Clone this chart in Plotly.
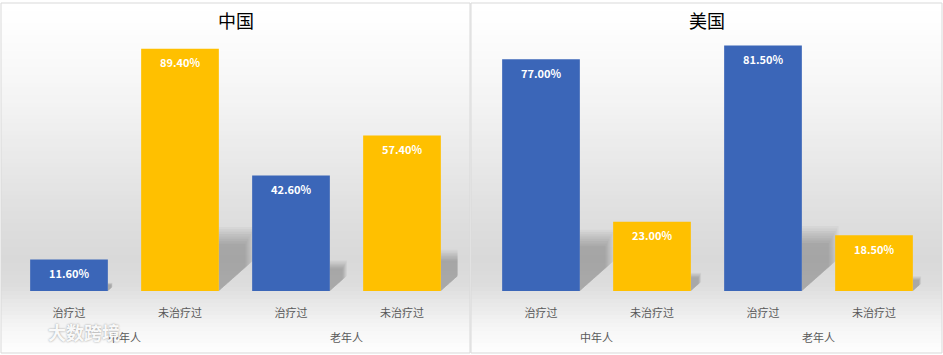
import plotly.graph_objects as go

# ---- data ----
groups = ["中年人", "中年人", "老年人", "老年人"]
categories = ["治疗过", "未治疗过", "治疗过", "未治疗过"]
china_values = [11.60, 89.40, 42.60, 57.40]
usa_values = [77.00, 23.00, 81.50, 18.50]
panel_titles = ["中国", "美国"]
watermark_text = "大数跨境"

# ---- style ----
W, H = 943, 355
BLUE = "#3B66B8"
YELLOW = "#FFC000"
bar_colors = [BLUE, YELLOW, BLUE, YELLOW]
FONT = "Noto Sans CJK SC"
panels_px = [(1, 470), (471, 942)]       # panel borders (x, px)
panel_top, panel_bottom = 3, 353
plot_x_px = [(13.5, 457.5), (485.5, 929.5)]
plot_y_px = (20, 291)
y_ranges = [[0, 100], [0, 90]]
BAR_W = 0.7
grad_stops = [(3, 255), (40, 252), (100, 244), (160, 233), (220, 222), (260, 217),
              (285, 221), (305, 233), (330, 247), (353, 254)]


def px_x(v):
    return v / W


def px_y(v):
    return 1 - v / H


def gray_at(yp):
    for (y0, g0), (y1, g1) in zip(grad_stops[:-1], grad_stops[1:]):
        if y0 <= yp <= y1:
            t = (yp - y0) / (y1 - y0)
            return g0 + (g1 - g0) * t
    return 255


keys = [f"{g}|{c}|{i}" for i, (g, c) in enumerate(zip(groups, categories))]

fig = go.Figure()
shapes = []
annotations = []

# background gradient
step = 4
for (x0, x1) in panels_px:
    y = panel_top
    while y < panel_bottom:
        y2 = min(y + step, panel_bottom)
        g = int(round(gray_at((y + y2) / 2)))
        shapes.append(dict(type="rect", xref="paper", yref="paper",
                           x0=px_x(x0), x1=px_x(x1), y0=px_y(y2), y1=px_y(y),
                           fillcolor=f"rgb({g},{g},{g})", line=dict(width=0),
                           layer="below"))
        y = y2

plot_h_px = plot_y_px[1] - plot_y_px[0]
n_layers = 8
for i, vals in enumerate([china_values, usa_values]):
    sfx = "" if i == 0 else "2"
    cat_px = (plot_x_px[i][1] - plot_x_px[i][0]) / len(keys)
    fig.add_trace(go.Bar(
        x=keys, y=vals,
        xaxis="x" + sfx, yaxis="y" + sfx,
        marker=dict(color=bar_colors, line=dict(width=0)),
        width=BAR_W,
        showlegend=False, hoverinfo="skip",
    ))
    fig.add_trace(go.Scatter(
        x=keys, y=vals, xaxis="x" + sfx, yaxis="y" + sfx,
        mode="markers+text", marker=dict(size=15, opacity=0),
        text=[f"{v:.2f}%" for v in vals], textposition="bottom center",
        textfont=dict(color="white", size=11, family=FONT, weight="bold"),
        showlegend=False, hoverinfo="skip", cliponaxis=False,
    ))
    # soft shadows behind bars (derived from bar values)
    yr = y_ranges[i][1] - y_ranges[i][0]
    for j, v in enumerate(vals):
        h_px = v * plot_h_px / yr
        hs = 0.23 * v
        ws = 0.13 * h_px / cat_px
        xr = j + BAR_W / 2
        for k in range(n_layers):
            grow = 1.15 - 0.3 * k / (n_layers - 1)
            path = (f"M {xr},{hs * grow} L {xr + ws * grow},{hs * grow} "
                    f"L {xr + ws * grow},{hs * grow * 0.5} L {xr},0 Z")
            shapes.append(dict(type="path", xref="x" + sfx, yref="y" + sfx, path=path,
                               fillcolor="rgba(0,0,0,0.03)", line=dict(width=0),
                               layer="below"))
    # group labels
    for g in dict.fromkeys(groups):
        idx = [j for j, gg in enumerate(groups) if gg == g]
        annotations.append(dict(text=g, xref="x" + sfx, yref="paper",
                                x=sum(idx) / len(idx), y=px_y(337),
                                xanchor="center", yanchor="middle", showarrow=False,
                                font=dict(size=11, color="#595959", family=FONT)))

for (x0, x1) in panels_px:
    shapes.append(dict(type="rect", xref="paper", yref="paper",
                       x0=px_x(x0), x1=px_x(x1), y0=px_y(panel_bottom), y1=px_y(panel_top),
                       line=dict(color="#D9D9D9", width=1), fillcolor="rgba(0,0,0,0)",
                       layer="above"))

for (x0, x1), t in zip(panels_px, panel_titles):
    annotations.append(dict(text=t, xref="paper", yref="paper",
                            x=px_x((x0 + x1) / 2), y=px_y(20),
                            xanchor="center", yanchor="middle", showarrow=False,
                            font=dict(size=18, color="#000000", family=FONT)))
annotations.append(dict(text=watermark_text, xref="paper", yref="paper",
                        x=px_x(84), y=px_y(332), xanchor="center", yanchor="middle",
                        showarrow=False, borderpad=0,
                        font=dict(size=18, color="rgba(255,255,255,0.95)", family=FONT,
                                  weight="bold", shadow="0px 0px 2px #8a8a8a")))

ydom = [px_y(plot_y_px[1]), px_y(plot_y_px[0])]
axis_common = dict(showgrid=False, showline=False, zeroline=False,
                   ticks="outside", ticklen=12, tickcolor="rgba(0,0,0,0)",
                   tickvals=keys, ticktext=categories, type="category",
                   range=[-0.5, len(keys) - 0.5], autorange=False,
                   tickfont=dict(size=11, color="#595959", family=FONT))
fig.update_layout(
    width=W, height=H, margin=dict(l=0, r=0, t=0, b=0),
    paper_bgcolor="white", plot_bgcolor="rgba(0,0,0,0)",
    bargap=0.3,
    xaxis=dict(domain=[px_x(plot_x_px[0][0]), px_x(plot_x_px[0][1])], anchor="y", **axis_common),
    xaxis2=dict(domain=[px_x(plot_x_px[1][0]), px_x(plot_x_px[1][1])], anchor="y2", **axis_common),
    yaxis=dict(domain=ydom, range=y_ranges[0], visible=False, anchor="x"),
    yaxis2=dict(domain=ydom, range=y_ranges[1], visible=False, anchor="x2"),
    shapes=shapes, annotations=annotations,
)

fig.write_html("out.html")
